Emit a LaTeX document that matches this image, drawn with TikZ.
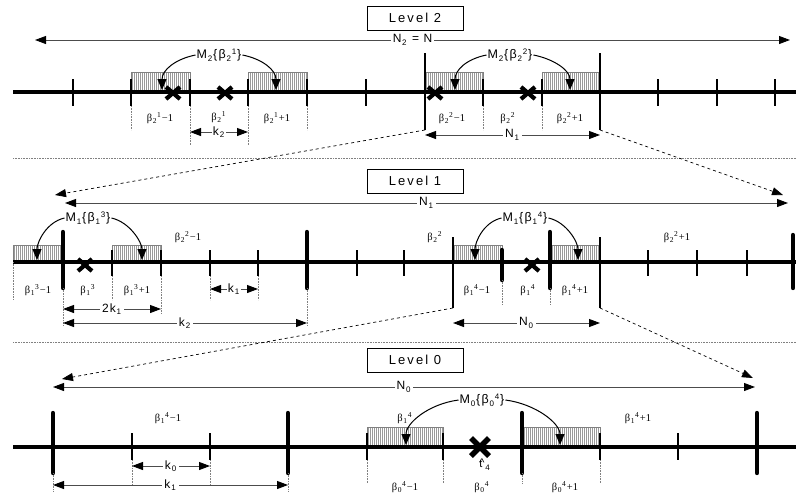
\documentclass[tikz,border=0pt]{standalone}
\usepackage{fontspec}
\setmainfont[LetterSpace=10]{Liberation Sans}
\newfontfamily\lvlfont[LetterSpace=16]{Liberation Sans}
\newfontfamily\grk{Liberation Serif}
\usetikzlibrary{arrows.meta,patterns.meta}
\newcommand\sbb[1]{\kern0.8pt\raisebox{-2.6pt}{\fontsize{8}{9}\selectfont #1}\kern0.8pt}
\newcommand\spb[1]{\raisebox{4pt}{\fontsize{8}{9}\selectfont #1}\kern0.8pt}
\newcommand\ml[3]{M\sbb{#1}\{β\sbb{#2}\spb{#3}\}}
\newcommand\bl[3]{{\grk\fontsize{10.5}{11}\selectfont β\kern0.6pt\raisebox{-2pt}{\fontsize{7.5}{7.5}\selectfont #1}\kern0.6pt\raisebox{3.6pt}{\fontsize{7.5}{7.5}\selectfont #2}\kern1pt#3}}
\tikzset{
  axisline/.style={line width=3.2pt},
  tk/.style={line width=2.4pt},
  btk/.style={line width=4.4pt, line cap=round},
  ttk/.style={line width=1.8pt},
  ext/.style={densely dotted, line width=0.6pt, gray},
  hatch/.style={draw=gray, line width=0.6pt, pattern={Lines[angle=90,distance=2pt,line width=0.5pt]}, pattern color=gray!80},
  dim/.style={{Triangle[length=11pt,width=8pt,color=black]}-{Triangle[length=11pt,width=8pt,color=black]}, line width=0.9pt, draw=gray!60!black},
  dlbl/.style={fill=white, inner sep=2pt, font=\fontsize{12}{14}\selectfont},
  dsh/.style={dashed, line width=0.7pt, -{Triangle[length=11pt,width=8pt]}},
  lvl/.style={draw, line width=0.8pt, minimum width=96pt, minimum height=24pt, inner sep=0pt, font=\lvlfont\fontsize{13}{15}\selectfont},
  mlbl/.style={font=\fontsize{12.5}{14}\selectfont, inner sep=1pt},
  blbl/.style={inner sep=0pt},
  curv/.style={line width=1pt, -{Triangle[length=11pt,width=9pt]}},
  sepline/.style={densely dotted, line width=0.6pt, gray},
  xmark/.pic={\draw[line width=4.2pt] (-7,-6)--(7,6) (-7,6)--(7,-6);},
  bigxmark/.pic={\draw[line width=5.5pt] (-9,-9)--(9,9) (-9,9)--(9,-9);}
}
\begin{document}
\begin{tikzpicture}[x=1pt,y=-1pt]
\useasboundingbox (0,0) rectangle (796,499);

% ================= Level 2 =================
\node[lvl] (lv2) at (415,18) {Level 2};
\coordinate (n2a) at (35,40); \coordinate (n2b) at (790,40);
\draw[dim] (n2a) -- (n2b) node[midway,dlbl] (n2l) {N\sbb{2}\ =\ N};
\foreach \a/\b in {131/190,248/307,425/483,542/600} \draw[hatch] (\a,72) rectangle (\b,92);
\draw[axisline] (13,92) -- (796,92);
\foreach \x in {73,131,190,248,307,366,483,542,658,717,775} \draw[tk] (\x,79) -- (\x,106);
\coordinate (t2a) at (425,130); \coordinate (t2b) at (600,130);
\draw[ttk] (425,53) -- (t2a);
\draw[ttk] (600,53) -- (t2b);
\draw[ext] (131,106)--(131,130) (190,106)--(190,145) (248,106)--(248,145) (307,106)--(307,130) (483,106)--(483,130) (542,106)--(542,130);
\pic at (173,93) {xmark}; \pic at (225,93) {xmark};
\pic at (435,93) {xmark}; \pic at (528,93) {xmark};
\node[blbl] (b21m) at (160,118) {\bl{2}{1}{−1}};
\node[blbl] (b21)  at (219,117) {\bl{2}{1}{}};
\node[blbl] (b21p) at (277,118) {\bl{2}{1}{+1}};
\node[blbl] (b22m) at (452,118) {\bl{2}{2}{−1}};
\node[blbl] (b22)  at (508,118) {\bl{2}{2}{}};
\node[blbl] (b22p) at (570,118) {\bl{2}{2}{+1}};
\coordinate (k2a) at (190,132); \coordinate (k2b) at (248,132);
\draw[dim] (k2a) -- (k2b) node[midway,dlbl,inner sep=1pt] (k2l) {k\sbb{2}};
\coordinate (n1a) at (425,135); \coordinate (n1b) at (600,135);
\draw[dim] (n1a) -- (n1b) node[midway,dlbl] (n1l) {N\sbb{1}};
\node[mlbl] (m21) at (219,55) {\ml{2}{2}{1}};
\node[mlbl] (m22) at (510,55) {\ml{2}{2}{2}};
\coordinate (a21l) at (162,90); \coordinate (a21r) at (276,90);
\coordinate (a22l) at (455,90); \coordinate (a22r) at (570,90);
\draw[curv] (m21.west) .. controls +(-20,4) and +(0,-20) .. (a21l);
\draw[curv] (m21.east) .. controls +(20,4) and +(0,-20) .. (a21r);
\draw[curv] (m22.west) .. controls +(-20,4) and +(0,-20) .. (a22l);
\draw[curv] (m22.east) .. controls +(20,4) and +(0,-20) .. (a22r);

\draw[sepline] (13,158) -- (796,158);

% ================= Level 1 =================
\node[lvl] (lv1) at (415,181) {Level 1};
\coordinate (n1La) at (65,203); \coordinate (n1Lb) at (788,203);
\draw[dim] (n1La) -- (n1Lb) node[midway,dlbl] (n1Ll) {N\sbb{1}};
\coordinate (d1l) at (55,195); \coordinate (d1r) at (783,195);
\draw[dsh] (t2a) -- (d1l);
\draw[dsh] (t2b) -- (d1r);
\foreach \a/\b in {13/63,112/161,453/502,550/600} \draw[hatch] (\a,245) rectangle (\b,262);
\draw[axisline] (13,262) -- (796,262);
\foreach \x in {112,161,210,258,357,404,648,697,747} \draw[tk] (\x,250) -- (\x,276);
\foreach \x in {63,307,550} \draw[btk] (\x,232) -- (\x,288);
\draw[btk] (793,235) -- (793,288);
\draw[btk] (502,250) -- (502,280);
\coordinate (t1a) at (453,308); \coordinate (t1b) at (600,308);
\draw[ttk] (453,237) -- (t1a);
\draw[ttk] (600,237) -- (t1b);
\draw[ext] (13,262)--(13,300) (63,288)--(63,325) (112,276)--(112,300) (161,276)--(161,313) (210,276)--(210,300) (258,276)--(258,300) (307,288)--(307,325) (502,280)--(502,305) (550,288)--(550,305);
\pic at (85,265) {xmark}; \pic at (532,265) {xmark};
\node[blbl] (b13m) at (38,290) {\bl{1}{3}{−1}};
\node[blbl] (b13)  at (88,290) {\bl{1}{3}{}};
\node[blbl] (b13p) at (137,290) {\bl{1}{3}{+1}};
\node[blbl] (b14m) at (477,290) {\bl{1}{4}{−1}};
\node[blbl] (b14)  at (528,290) {\bl{1}{4}{}};
\node[blbl] (b14p) at (575,290) {\bl{1}{4}{+1}};
\node[blbl] (c22m) at (188,237) {\bl{2}{2}{−1}};
\node[blbl] (c22)  at (435,237) {\bl{2}{2}{}};
\node[blbl] (c22p) at (677,237) {\bl{2}{2}{+1}};
\node[mlbl] (m13) at (88,218) {\ml{1}{1}{3}};
\node[mlbl] (m14) at (525,218) {\ml{1}{1}{4}};
\coordinate (a13l) at (37,260); \coordinate (a13r) at (142,260);
\coordinate (a14l) at (475,260); \coordinate (a14r) at (578,260);
\draw[curv] (m13.west) .. controls +(-18,4) and +(0,-18) .. (a13l);
\draw[curv] (m13.east) .. controls +(18,4) and +(0,-18) .. (a13r);
\draw[curv] (m14.west) .. controls +(-18,4) and +(0,-18) .. (a14l);
\draw[curv] (m14.east) .. controls +(18,4) and +(0,-18) .. (a14r);
\coordinate (k1a) at (210,289); \coordinate (k1b) at (258,289);
\draw[dim] (k1a) -- (k1b) node[midway,dlbl,inner sep=1pt] (k1l) {k\sbb{1}};
\coordinate (kk1a) at (63,309); \coordinate (kk1b) at (161,309);
\draw[dim] (kk1a) -- (kk1b) node[midway,dlbl] (kk1l) {2k\sbb{1}};
\coordinate (kb2a) at (63,323); \coordinate (kb2b) at (307,323);
\draw[dim] (kb2a) -- (kb2b) node[midway,dlbl] (kb2l) {k\sbb{2}};
\coordinate (n0a) at (453,323); \coordinate (n0b) at (600,323);
\draw[dim] (n0a) -- (n0b) node[midway,dlbl] (n0l) {N\sbb{0}};

\draw[sepline] (13,342) -- (796,342);

% ================= Level 0 =================
\node[lvl] (lv0) at (415,360) {Level 0};
\coordinate (n0La) at (53,387); \coordinate (n0Lb) at (755,387);
\draw[dim] (n0La) -- (n0Lb) node[midway,dlbl] (n0Ll) {N\sbb{0}};
\coordinate (d0l) at (62,379); \coordinate (d0r) at (753,378);
\draw[dsh] (t1a) -- (d0l);
\draw[dsh] (t1b) -- (d0r);
\foreach \a/\b in {367/443,522/600} \draw[hatch] (\a,427) rectangle (\b,447);
\draw[axisline] (13,447) -- (796,447);
\foreach \x in {132,210,367,443,600,678} \draw[tk] (\x,433) -- (\x,460);
\foreach \x in {53,288,522,757} \draw[btk] (\x,413) -- (\x,473);
\draw[ext] (53,473)--(53,492) (132,460)--(132,485) (210,460)--(210,485) (288,473)--(288,492) (367,460)--(367,483) (443,460)--(443,483) (522,473)--(522,483) (600,460)--(600,483);
\pic at (480,447) {bigxmark};
\node[inner sep=0pt,font=\fontsize{11}{12}\selectfont] (t4) at (485,465) {\ooalign{\hfil\raisebox{1pt}{\char"5E}\hfil\cr t}\sbb{4}};
\node[blbl] (b14mz) at (168,418) {\bl{1}{4}{−1}};
\node[blbl] (b14z)  at (405,418) {\bl{1}{4}{}};
\node[blbl] (b14pz) at (638,418) {\bl{1}{4}{+1}};
\node[blbl] (b04m) at (405,487) {\bl{0}{4}{−1}};
\node[blbl] (b04)  at (482,487) {\bl{0}{4}{}};
\node[blbl] (b04p) at (565,487) {\bl{0}{4}{+1}};
\node[mlbl] (m04) at (482,400) {\ml{0}{0}{4}};
\coordinate (a04l) at (406,445); \coordinate (a04r) at (560,445);
\draw[curv] (m04.west) .. controls +(-30,4) and +(0,-22) .. (a04l);
\draw[curv] (m04.east) .. controls +(30,4) and +(0,-22) .. (a04r);
\coordinate (k0a) at (132,466); \coordinate (k0b) at (210,466);
\draw[dim] (k0a) -- (k0b) node[midway,dlbl] (k0l) {k\sbb{0}};
\coordinate (kc1a) at (53,485); \coordinate (kc1b) at (288,485);
\draw[dim] (kc1a) -- (kc1b) node[midway,dlbl] (kc1l) {k\sbb{1}};
\end{tikzpicture}
\end{document}
